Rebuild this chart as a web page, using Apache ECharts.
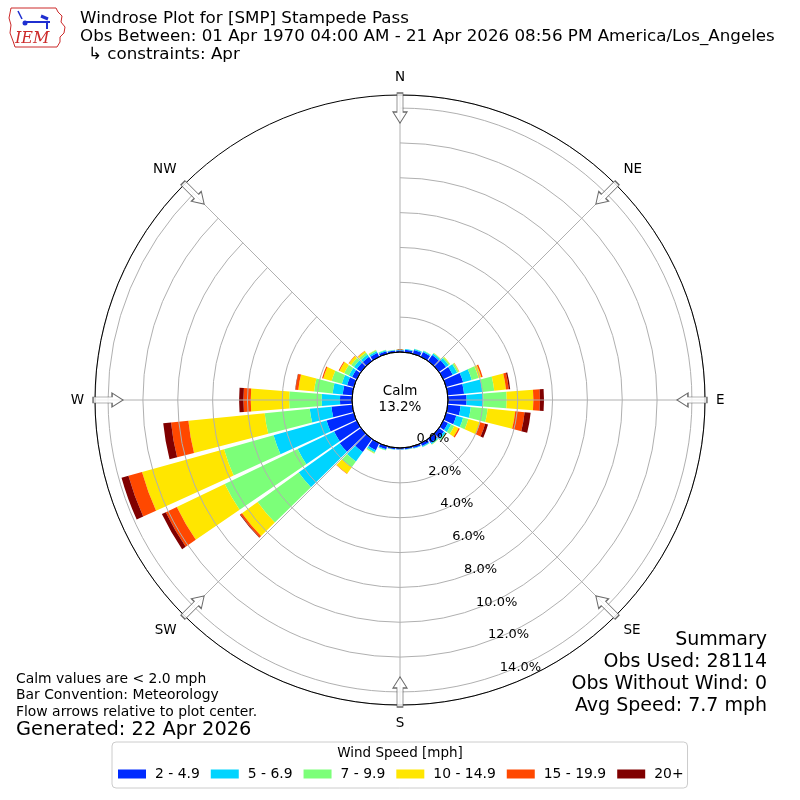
<!DOCTYPE html>
<html><head><meta charset="utf-8">
<script src="https://cdn.jsdelivr.net/npm/echarts@6/dist/echarts.min.js"></script>
<style>html,body{margin:0;padding:0;background:#fff}#c{width:800px;height:800px}</style>
</head><body><div id="c"></div>
<script>
// ---- data (percent of observations, per 10-degree direction bin) ----
const directions = ['0','10','20','30','40','50','60','70','80','90','100','110','120','130','140','150','160','170',
                    '180','190','200','210','220','230','240','250','260','270','280','290','300','310','320','330','340','350'];
const speedBins = ['2 - 4.9','5 - 6.9','7 - 9.9','10 - 14.9','15 - 19.9','20+'];
const binColors = ['#002bff','#00d4ff','#7cff79','#ffe600','#ff4800','#800000'];

const spd2to5   = [0.10,0.14,0.22,0.30,0.42,0.50,0.60,1.01,0.94,1.07,0.74,0.60,0.30,0.35,0.28,0.18,0.11,0.09,
                   0.08,0.09,0.18,0.45,0.92,1.50,1.44,1.62,1.20,0.69,0.55,0.40,0.30,0.30,0.30,0.25,0.15,0.10];
const spd5to7   = [0.03,0.04,0.06,0.07,0.10,0.18,0.28,0.51,1.06,0.96,0.59,0.41,0.20,0.12,0.08,0.05,0.03,0.02,
                   0.02,0.02,0.05,0.12,0.67,2.90,2.32,3.16,1.25,1.05,0.58,0.31,0.20,0.20,0.15,0.10,0.06,0.03];
const spd7to10  = [0.01,0.01,0.02,0.02,0.05,0.08,0.10,0.41,0.68,1.34,0.97,0.31,0.20,0.06,0.03,0.02,0.01,0.01,
                   0.00,0.01,0.02,0.07,0.41,2.90,4.64,2.95,2.60,1.87,1.07,0.61,0.30,0.20,0.15,0.07,0.03,0.02];
const spd10to15 = [0.00,0.00,0.00,0.00,0.01,0.03,0.03,0.16,0.68,1.53,1.59,0.70,0.27,0.02,0.01,0.00,0.00,0.00,
                   0.00,0.00,0.00,0.02,0.45,1.10,3.05,4.89,4.40,2.20,0.91,0.50,0.30,0.15,0.10,0.03,0.00,0.00];
const spd15to20 = [0,0,0,0,0,0,0.01,0.08,0.16,0.38,0.54,0.30,0.08,0,0,0,0,0,
                   0,0,0,0,0.02,0.12,0.70,0.81,1.00,0.42,0.16,0.07,0.05,0.03,0.02,0,0,0];
const spd20plus = [0,0,0,0,0,0,0,0,0.08,0.23,0.35,0.17,0,0,0,0,0,0,
                   0,0,0,0,0,0.03,0.25,0.41,0.45,0.25,0.02,0,0,0,0,0,0,0];
const speedSeries = [spd2to5, spd5to7, spd7to10, spd10to15, spd15to20, spd20plus];

const compassLabels = ['N','NE','E','SE','S','SW','W','NW'];
const radiusMax = 14.75;     // outer edge of the plot, percent
const tickInterval = 2;      // radial tick spacing, percent
const arrowRadius = 14.0;    // flow arrows sit on the 14% ring
const calmPct = 13.2;

const titleLines = ['Windrose Plot for [SMP] Stampede Pass',
  'Obs Between: 01 Apr 1970 04:00 AM - 21 Apr 2026 08:56 PM America/Los_Angeles',
  '\u21b3 constraints: Apr'];
const noteLines = ['Calm values are < 2.0 mph','Bar Convention: Meteorology','Flow arrows relative to plot center.'];
const generatedText = 'Generated: 22 Apr 2026';
const summaryLines = ['Summary','Obs Used: 28114','Obs Without Wind: 0','Avg Speed: 7.7 mph'];
const legendTitle = 'Wind Speed [mph]';

// ---- chart ----
const FONT = 'DejaVu Sans';
const chart = echarts.init(document.getElementById('c'), null, {renderer:'canvas'});
const C = ['50%','50%'];
const R = [48, 305];
const hiddenAxis = {axisLine:{show:false},axisTick:{show:false},axisLabel:{show:false},splitLine:{show:false}};

const arrowPath = 'path://M7,0L14,11L10,11L10,30L4,30L4,11L0,11Z';

const series = speedSeries.map((vals,i)=>({
  name: speedBins[i], type:'bar', coordinateSystem:'polar', polarIndex:0, stack:'wind',
  data: vals, barCategoryGap:'12%', itemStyle:{color:binColors[i]}, z:2, silent:true
}));
series.push({
  type:'scatter', coordinateSystem:'polar', polarIndex:1, z:8, silent:true,
  symbol: arrowPath, symbolSize:[14,30],
  itemStyle:{color:'#ffffff', borderColor:'#444444', borderWidth:1},
  data: compassLabels.map((c,i)=>({value:[arrowRadius, c], symbolRotate: 180 - 45*i}))
});

const g = [];
titleLines.forEach((t,i)=>g.push({type:'text', x: i===2?88:80, y:19+18*i, style:{text:t, fontSize:16.7, fontFamily:FONT, fill:'#000', verticalAlign:'middle'}}));
noteLines.forEach((t,i)=>g.push({type:'text', x:16, y:679+16.5*i, style:{text:t, fontSize:13.9, fontFamily:FONT, fill:'#000', verticalAlign:'middle'}}));
g.push({type:'text', x:16, y:730, style:{text:generatedText, fontSize:19.4, fontFamily:FONT, fill:'#000', verticalAlign:'middle'}});
summaryLines.forEach((t,i)=>g.push({type:'text', x:767, y:640+22*i, style:{text:t, fontSize:19, fontFamily:FONT, fill:'#000', align:'right', verticalAlign:'middle'}}));
g.push({type:'text', x:400, y:753, z:20, style:{text:legendTitle, fontSize:13.5, fontFamily:FONT, fill:'#000', align:'center', verticalAlign:'middle'}});
g.push({type:'text', x:400, y:399, z:20, style:{text:'Calm\n'+calmPct.toFixed(1)+'%', fontSize:13.5, lineHeight:16, fontFamily:FONT, fill:'#000', align:'center', verticalAlign:'middle'}});
// IEM logo (decorative)
g.push({type:'polyline', shape:{points:[[11,8],[56,8],[58,12],[62,16],[61,22],[65,27],[64,33],[60,37],[60,42],[57,47],[15,47],[13,41],[10,33],[11,25],[9,18],[11,8]]},
  style:{stroke:'#cc2a2a', fill:'none', lineWidth:1}});
g.push({type:'line', shape:{x1:24,y1:22,x2:50,y2:22}, style:{stroke:'#1f2fd0', lineWidth:2}});
g.push({type:'line', shape:{x1:41,y1:16,x2:48,y2:19}, style:{stroke:'#1f2fd0', lineWidth:3}});
g.push({type:'line', shape:{x1:47,y1:22,x2:47,y2:29}, style:{stroke:'#1f2fd0', lineWidth:2}});
g.push({type:'line', shape:{x1:18,y1:11,x2:22,y2:19}, style:{stroke:'#1f2fd0', lineWidth:1.5}});
g.push({type:'circle', shape:{cx:25,cy:23,r:2.5}, style:{fill:'#1f2fd0'}});
g.push({type:'text', x:15, y:39, style:{text:'IEM', fontSize:16, fontStyle:'italic', fontFamily:'DejaVu Serif', fill:'#cc2a2a', verticalAlign:'middle'}});

const option = {
  animation:false,
  backgroundColor:'#ffffff',
  polar:[
    {center:C, radius:R},
    {center:C, radius:R},
    {center:C, radius:R},
    {center:C, radius:48}
  ],
  angleAxis:[
    Object.assign({polarIndex:0, type:'category', data:directions, startAngle:95, clockwise:true, boundaryGap:true}, hiddenAxis),
    {polarIndex:1, type:'category', data:compassLabels, startAngle:90, clockwise:true, boundaryGap:false, z:5,
     axisLine:{show:true, lineStyle:{color:'#000', width:1}},
     axisTick:{show:false},
     splitLine:{show:true, lineStyle:{color:'#b0b0b0', width:1}},
     axisLabel:{show:true, margin:11, fontSize:13.5, fontFamily:FONT, color:'#000'}},
    Object.assign({polarIndex:2, type:'value', min:0, max:360, startAngle:-70}, hiddenAxis),
    {polarIndex:3, type:'value', min:0, max:360, startAngle:90, z:6,
     axisLine:{show:true, lineStyle:{color:'#000', width:1}}, axisTick:{show:false}, axisLabel:{show:false}, splitLine:{show:false}}
  ],
  radiusAxis:[
    Object.assign({polarIndex:0, type:'value', min:0, max:radiusMax}, hiddenAxis),
    {polarIndex:1, type:'value', min:0, max:radiusMax, interval:tickInterval, z:4,
     axisLine:{show:false}, axisTick:{show:false}, axisLabel:{show:false},
     splitLine:{show:true, lineStyle:{color:'#b0b0b0', width:1}}},
    {polarIndex:2, type:'value', min:0, max:radiusMax, interval:tickInterval, z:7,
     axisLine:{show:false}, axisTick:{show:false}, splitLine:{show:false},
     axisLabel:{show:true, margin:0, align:'left', verticalAlign:'bottom', showMaxLabel:false,
       fontSize:13, fontFamily:FONT, color:'#000',
       formatter:(v)=> (Math.abs(v/tickInterval - Math.round(v/tickInterval))<1e-6 ? v.toFixed(1)+'%' : '')}},
    Object.assign({polarIndex:3, type:'value', min:0, max:1}, hiddenAxis)
  ],
  legend:{
    data:speedBins, left:112, top:742, orient:'horizontal',
    icon:'rect', itemWidth:28, itemHeight:9, itemGap:11,
    padding:[25,4,7,6], borderColor:'#cccccc', borderWidth:1, borderRadius:4, backgroundColor:'#ffffff',
    textStyle:{fontSize:13.9, fontFamily:FONT, color:'#000', padding:[0,0,0,4]},
    selectedMode:false
  },
  graphic:g,
  series:series
};
chart.setOption(option);
</script></body></html>
